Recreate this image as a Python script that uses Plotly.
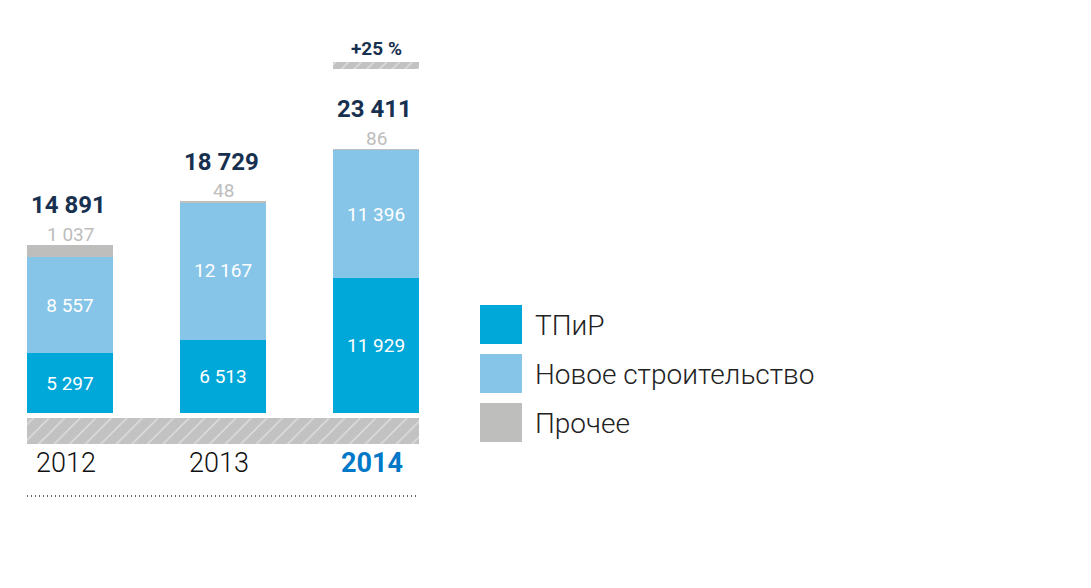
import plotly.graph_objects as go

years = ["2012", "2013", "2014"]
tpir = [5297, 6513, 11929]
new_constr = [8557, 12167, 11396]
other = [1037, 48, 86]
totals = [14891, 18729, 23411]
growth_label = "+25 %"
series_names = ["ТПиР", "Новое строительство", "Прочее"]
colors = ["#00A7D9", "#86C5E8", "#BEBEBD"]

OFF = 8                           # page body margin
W, H = 1091 - 2 * OFF, 588 - 2 * OFF
x_px0, step_px = 70 - OFF, 153    # pixel centre of first bar, spacing
base_px = 413 - OFF               # pixel of zero line
k = 264 / 23411                   # px per unit
bar_w = 86 / step_px

def fmt(v):
    return f"{v:,}".replace(",", " ")

def xpx(p):  # reference pixel -> data x
    return (p - OFF - x_px0) / step_px

def ypx(p):  # reference pixel -> data y
    return (base_px - (p - OFF)) / k

xs = list(range(len(years)))
fig = go.Figure()

fig.add_trace(go.Bar(x=xs, y=tpir, width=bar_w, marker=dict(color=colors[0], line=dict(width=0)),
                     text=[fmt(v) for v in tpir], textposition="inside", insidetextanchor="middle",
                     textfont=dict(color="white", size=19, family="Roboto"), name=series_names[0]))
fig.add_trace(go.Bar(x=xs, y=new_constr, width=bar_w, marker=dict(color=colors[1], line=dict(width=0)),
                     text=[fmt(v) for v in new_constr], textposition="inside", insidetextanchor="middle",
                     textfont=dict(color="white", size=19, family="Roboto"), name=series_names[1]))
fig.add_trace(go.Bar(x=xs, y=other, width=bar_w, marker=dict(color=colors[2], line=dict(width=0)),
                     name=series_names[2]))

# hatched base band under all bars
band_left, band_right = xpx(27), xpx(419)
band_top, band_bot = ypx(418), ypx(444)
fig.add_trace(go.Bar(x=[(band_left + band_right) / 2], y=[band_top - band_bot], base=[band_bot],
                     width=band_right - band_left,
                     marker=dict(color="#C2C2C2", line=dict(width=0),
                                 pattern=dict(shape="/", fgcolor="white", bgcolor="#C2C2C2", size=11, solidity=0.12)),
                     hoverinfo="skip", showlegend=False))

# small hatched growth marker above 2014
g_top, g_bot = ypx(62), ypx(69)
fig.add_trace(go.Bar(x=[xs[-1]], y=[g_top - g_bot], base=[g_bot], width=bar_w,
                     marker=dict(color="#C2C2C2", line=dict(width=0),
                                 pattern=dict(shape="/", fgcolor="white", bgcolor="#C2C2C2", size=9, solidity=0.15)),
                     hoverinfo="skip", showlegend=False))

ann = []
for i, (t, o) in enumerate(zip(totals, other)):
    ann.append(dict(x=i, y=t, xref="x", yref="y", text=fmt(o), showarrow=False,
                    yanchor="middle", yshift=11, font=dict(color="#BDBDBD", size=19, family="Roboto")))
    ann.append(dict(x=i, y=t, xref="x", yref="y", text=f"<b>{fmt(t)}</b>", showarrow=False,
                    yanchor="middle", yshift=40, xshift=-2, font=dict(color="#17304F", size=24, family="Roboto")))
    bold = i == len(years) - 1
    ann.append(dict(x=i, y=0, xref="x", yref="y",
                    text=f"<b>{years[i]}</b>" if bold else years[i], showarrow=False,
                    yanchor="middle", yshift=-50, xshift=-4,
                    font=dict(color="#0078C8" if bold else "#111111", size=27,
                              family="Roboto", weight=700 if bold else 300)))
ann.append(dict(x=xs[-1], y=g_top, xref="x", yref="y", text=f"<b>{growth_label}</b>", showarrow=False,
                yanchor="middle", yshift=14, font=dict(color="#17304F", size=19, family="Roboto")))

dot_y = ypx(496)
shapes = [dict(type="line", xref="x", yref="y", x0=band_left, x1=band_right, y0=dot_y, y1=dot_y,
               line=dict(color="#333333", width=1.5, dash="1px,3px"))]

# legend drawn manually
leg_top = [305, 354, 403]
for name, c, ty in zip(series_names, colors, leg_top):
    t = ty - OFF
    shapes.append(dict(type="rect", xref="paper", yref="paper",
                       x0=(480 - OFF) / W, x1=(522 - OFF) / W, y0=1 - (t + 39) / H, y1=1 - t / H,
                       fillcolor=c, line=dict(width=0)))
    ann.append(dict(x=(533 - OFF) / W, y=1 - (t + 20) / H, xref="paper", yref="paper", text=name,
                    showarrow=False, xanchor="left", yanchor="middle",
                    font=dict(color="#222222", size=28, family="Roboto", weight=300)))

fig.update_layout(
    width=W, height=H, margin=dict(l=0, r=0, t=0, b=0),
    barmode="stack", showlegend=False,
    paper_bgcolor="white", plot_bgcolor="white",
    xaxis=dict(range=[-x_px0 / step_px, (W - x_px0) / step_px], visible=False, fixedrange=True),
    yaxis=dict(range=[-(H - base_px) / k, base_px / k], visible=False, fixedrange=True),
    annotations=ann, shapes=shapes, uniformtext=dict(mode="show", minsize=10),
)
fig.write_html("out.html")
